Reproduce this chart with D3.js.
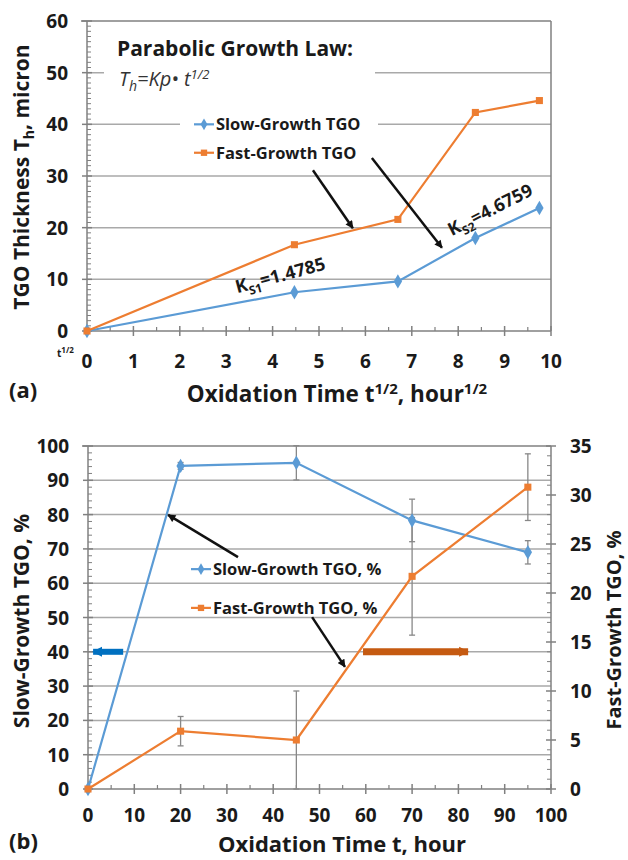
<!DOCTYPE html>
<html>
<head>
<meta charset="utf-8">
<script src="https://cdn.jsdelivr.net/npm/d3@7"></script>
<style>
body { margin: 0; background: #fff; }
text { font-family: "Open Sans", "Noto Sans", sans-serif; fill: #1a1a1a; }
</style>
</head>
<body>
<div id="chart"></div>
<script>
// (a) TGO thickness vs square root of oxidation time
const thickTime = [0, 4.47, 6.7, 8.37, 9.75];
const thickSlow = [0, 7.5, 9.6, 18.0, 23.8];
const thickFast = [0, 16.7, 21.6, 42.3, 44.6];
const thickXTicks = [0, 1, 2, 3, 4, 5, 6, 7, 8, 9, 10];
const thickYTicks = [0, 10, 20, 30, 40, 50, 60];

// (b) fraction of slow / fast growth TGO vs oxidation time
const pctTime = [0, 20, 45, 70, 95];
const pctSlow = [0, 94.2, 95.1, 78.3, 69.0];
const pctSlowErr = [0, 1.0, 5.0, 6.2, 3.4];
const pctFast = [0, 5.9, 5.0, 21.7, 30.8];
const pctFastErr = [0, 1.5, 5.0, 6.0, 3.4];
const pctXTicks = [0, 10, 20, 30, 40, 50, 60, 70, 80, 90, 100];
const pctLeftTicks = [0, 10, 20, 30, 40, 50, 60, 70, 80, 90, 100];
const pctRightTicks = [0, 5, 10, 15, 20, 25, 30, 35];

const BLUE = "#5b9bd5", ORANGE = "#ed7d31";
const GRID = "#a9a9a9", AXIS = "#808080";

const svg = d3.select("#chart").append("svg")
    .attr("width", 628).attr("height", 860);

const defs = svg.append("defs");
function arrowHead(id, color, w, h){
    defs.append("marker")
        .attr("id", id)
        .attr("markerUnits", "userSpaceOnUse")
        .attr("viewBox", "0 0 10 10")
        .attr("refX", 9).attr("refY", 5)
        .attr("markerWidth", w).attr("markerHeight", h)
        .attr("orient", "auto")
        .append("path").attr("d", "M0,0 L10,5 L0,10 z").attr("fill", color);
}
arrowHead("ahBlack", "#111", 9, 8);
arrowHead("ahBlue", "#0070c0", 10, 14);
arrowHead("ahOrange", "#c55a11", 10, 14);

function gridLines(g, y, ticks, x0, x1){
    g.selectAll(null).data(ticks).enter().append("line")
        .attr("x1", x0).attr("x2", x1)
        .attr("y1", d => y(d)).attr("y2", d => y(d))
        .attr("stroke", GRID).attr("stroke-width", 1.5);
}

// ticks crossing the axis, minor ticks on inner side
function xAxis(g, x, y0, ticks, minor, labelOff){
    g.append("line").attr("x1", x.range()[0]).attr("x2", x.range()[1])
        .attr("y1", y0).attr("y2", y0).attr("stroke", AXIS).attr("stroke-width", 1.5);
    g.selectAll(null).data(ticks).enter().append("line")
        .attr("x1", d => x(d)).attr("x2", d => x(d))
        .attr("y1", y0 - 5).attr("y2", y0 + 5).attr("stroke", AXIS).attr("stroke-width", 1.5);
    g.selectAll(null).data(minor).enter().append("line")
        .attr("x1", d => x(d)).attr("x2", d => x(d))
        .attr("y1", y0 - 4).attr("y2", y0).attr("stroke", AXIS).attr("stroke-width", 1.2);
    g.selectAll(null).data(ticks).enter().append("text")
        .attr("x", d => x(d)).attr("y", y0 + labelOff)
        .attr("text-anchor", "middle")
        .style("font-size", "19px").style("font-weight", "bold")
        .text(d => d);
}

function yAxis(g, y, x0, ticks, minor, side){
    let s = side === "left" ? 1 : -1;
    g.append("line").attr("x1", x0).attr("x2", x0)
        .attr("y1", y.range()[0]).attr("y2", y.range()[1]).attr("stroke", AXIS).attr("stroke-width", 1.5);
    g.selectAll(null).data(ticks).enter().append("line")
        .attr("x1", x0 - 5).attr("x2", x0 + 5)
        .attr("y1", d => y(d)).attr("y2", d => y(d)).attr("stroke", AXIS).attr("stroke-width", 1.5);
    g.selectAll(null).data(minor).enter().append("line")
        .attr("x1", x0).attr("x2", x0 + s * 4)
        .attr("y1", d => y(d)).attr("y2", d => y(d)).attr("stroke", AXIS).attr("stroke-width", 1);
    g.selectAll(null).data(ticks).enter().append("text")
        .attr("x", x0 - s * 19).attr("y", d => y(d) + 7)
        .attr("text-anchor", side === "left" ? "end" : "start")
        .style("font-size", "19px").style("font-weight", "bold")
        .text(d => d);
}

function series(g, xs, ys, x, y, color, shape){
    let pts = xs.map((d, i) => [x(d), y(ys[i])]);
    g.append("path").attr("d", d3.line()(pts))
        .attr("fill", "none").attr("stroke", color).attr("stroke-width", 2.2);
    let sym = d3.symbol().type(shape === "sq" ? d3.symbolSquare : d3.symbolDiamond)
        .size(shape === "sq" ? 50 : 60);
    g.selectAll(null).data(pts).enter().append("path")
        .attr("d", sym).attr("transform", d => "translate(" + d[0] + "," + d[1] + ")")
        .attr("fill", color);
}

function legendItem(g, x, y, color, shape, label, size){
    g.append("line").attr("x1", x).attr("x2", x + 20).attr("y1", y).attr("y2", y)
        .attr("stroke", color).attr("stroke-width", 2.2);
    let sym = d3.symbol().type(shape === "sq" ? d3.symbolSquare : d3.symbolDiamond).size(40);
    g.append("path").attr("d", sym).attr("transform", "translate(" + (x + 10) + "," + y + ")").attr("fill", color);
    g.append("text").attr("x", x + 22).attr("y", y + 6)
        .style("font-size", size).style("font-weight", "bold").text(label);
}

function arrow(g, p0, p1, marker, color, w){
    g.append("line").attr("x1", p0[0]).attr("y1", p0[1]).attr("x2", p1[0]).attr("y2", p1[1])
        .attr("stroke", color).attr("stroke-width", w).attr("marker-end", "url(#" + marker + ")");
}

// ---------------- panel (a) ----------------
const xa = d3.scaleLinear().domain([0, 10]).range([87, 551]);
const ya = d3.scaleLinear().domain([0, 60]).range([331, 21]);
const ga = svg.append("g");

gridLines(ga, ya, [10, 20, 30, 40, 50], xa(0), xa(10));
ga.append("line").attr("x1", xa(0) - 6).attr("x2", xa(10)).attr("y1", ya(60)).attr("y2", ya(60))
    .attr("stroke", AXIS).attr("stroke-width", 1.5);
ga.append("line").attr("x1", xa(10)).attr("x2", xa(10)).attr("y1", ya(60)).attr("y2", ya(0))
    .attr("stroke", AXIS).attr("stroke-width", 1.5);

// white text boxes hide parts of the gridlines
ga.append("rect").attr("x", 104).attr("y", 34).attr("width", 271).attr("height", 58).attr("fill", "#fff");
ga.append("rect").attr("x", 180).attr("y", 110).attr("width", 198).attr("height", 54).attr("fill", "#fff");

xAxis(ga, xa, ya(0), thickXTicks, d3.range(0.5, 10, 1), 37);
yAxis(ga, ya, xa(0), thickYTicks, d3.range(1, 60, 1).filter(d => d % 10 !== 0), "left");

series(ga, thickTime, thickSlow, xa, ya, BLUE, "di");
series(ga, thickTime, thickFast, xa, ya, ORANGE, "sq");

ga.append("text").attr("x", 117).attr("y", 56)
    .style("font-size", "21px").style("font-weight", "bold").text("Parabolic Growth Law:");
let f = ga.append("text").attr("x", 119).attr("y", 86)
    .style("font-size", "20px").style("font-style", "italic").style("fill", "#333");
f.append("tspan").text("T");
f.append("tspan").attr("dy", 5).style("font-size", "14px").text("h");
f.append("tspan").attr("dy", -5).text("=Kp\u2022 t");
f.append("tspan").attr("dy", -7).style("font-size", "13px").text("1/2");

legendItem(ga, 194, ya(40), BLUE, "di", "Slow-Growth TGO", "16.5px");
legendItem(ga, 194, ya(34.5), ORANGE, "sq", "Fast-Growth TGO", "16.5px");

arrow(ga, [xa(4.87), ya(31.1)], [xa(5.73), ya(19.9)], "ahBlack", "#111", 2.5);
arrow(ga, [xa(6.14), ya(33.5)], [xa(7.65), ya(16.1)], "ahBlack", "#111", 2.5);

function kLabel(g, cx, cy, ang, sub, val){
    let t = g.append("text").attr("transform", "translate(" + cx + "," + cy + ") rotate(" + ang + ")")
        .attr("text-anchor", "middle").style("font-size", "18px").style("font-weight", "bold");
    t.append("tspan").text("K");
    t.append("tspan").attr("dy", 5).style("font-size", "12px").text(sub);
    t.append("tspan").attr("dy", -5).text("=" + val);
}
kLabel(ga, xa(4.2), ya(9.6), -15, "S1", "1.4785");
kLabel(ga, xa(8.75), ya(22.4), -27, "S2", "4.6759");

let t12 = ga.append("text").attr("x", 57).attr("y", 357).style("font-size", "10px").style("font-weight", "bold");
t12.append("tspan").text("t");
t12.append("tspan").attr("dy", -4).style("font-size", "8px").text("1/2");

ga.append("text").attr("x", 9).attr("y", 398).style("font-size", "22px").style("font-weight", "bold").text("(a)");
let xt = ga.append("text").attr("x", 337).attr("y", 402).attr("text-anchor", "middle")
    .style("font-size", "22.5px").style("font-weight", "bold");
xt.append("tspan").text("Oxidation Time t");
xt.append("tspan").attr("dy", -8).style("font-size", "15px").text("1/2");
xt.append("tspan").attr("dy", 8).text(", hour");
xt.append("tspan").attr("dy", -8).style("font-size", "15px").text("1/2");

let yt = ga.append("text").attr("transform", "translate(29," + 177 + ") rotate(-90)")
    .attr("text-anchor", "middle").style("font-size", "21px").style("font-weight", "bold");
yt.append("tspan").text("TGO Thickness T");
yt.append("tspan").attr("dy", 5).style("font-size", "14px").text("h");
yt.append("tspan").attr("dy", -5).text(", micron");

// ---------------- panel (b) ----------------
const xb = d3.scaleLinear().domain([0, 100]).range([88, 551]);
const yl = d3.scaleLinear().domain([0, 100]).range([789, 446]);
const yr = d3.scaleLinear().domain([0, 35]).range([789, 446]);
const gb = svg.append("g");

gridLines(gb, yl, d3.range(10, 100, 10), xb(0), xb(100));
gb.append("line").attr("x1", xb(0) - 6).attr("x2", xb(100)).attr("y1", yl(100)).attr("y2", yl(100))
    .attr("stroke", AXIS).attr("stroke-width", 1.5);

xAxis(gb, xb, yl(0), pctXTicks, d3.range(5, 100, 10), 33);
yAxis(gb, yl, xb(0), pctLeftTicks, d3.range(2, 100, 2).filter(d => d % 10 !== 0), "left");
yAxis(gb, yr, xb(100), pctRightTicks, d3.range(1, 35, 1).filter(d => d % 5 !== 0), "right");

// error bars
function errBars(g, xs, ys, es, y){
    xs.forEach((d, i) => {
        if (es[i] <= 0) return;
        let cx = xb(d), top = y(ys[i] + es[i]), bot = y(Math.max(0, ys[i] - es[i]));
        g.append("line").attr("x1", cx).attr("x2", cx).attr("y1", top).attr("y2", bot)
            .attr("stroke", "#888").attr("stroke-width", 1.3);
        [top, bot].forEach(v => g.append("line").attr("x1", cx - 3).attr("x2", cx + 3)
            .attr("y1", v).attr("y2", v).attr("stroke", "#888").attr("stroke-width", 1.3));
    });
}
errBars(gb, pctTime, pctSlow, pctSlowErr, yl);
errBars(gb, pctTime, pctFast, pctFastErr, yr);

series(gb, pctTime, pctSlow, xb, yl, BLUE, "di");
series(gb, pctTime, pctFast, xb, yr, ORANGE, "sq");

legendItem(gb, 191, yl(64.1), BLUE, "di", "Slow-Growth TGO, %", "16.5px");
legendItem(gb, 191, yl(52.8), ORANGE, "sq", "Fast-Growth TGO, %", "16.5px");

arrow(gb, [xb(32.4), yl(67.6)], [xb(17.3), yl(79.9)], "ahBlack", "#111", 2.5);
arrow(gb, [xb(48.4), yl(50.1)], [xb(55.5), yl(35.6)], "ahBlack", "#111", 2.5);
arrow(gb, [xb(7.6), yl(40)], [xb(1.1), yl(40)], "ahBlue", "#0070c0", 6);
arrow(gb, [xb(59.4), yr(14)], [xb(82.1), yr(14)], "ahOrange", "#c55a11", 7);

gb.append("text").attr("x", 9).attr("y", 849).style("font-size", "22px").style("font-weight", "bold").text("(b)");
gb.append("text").attr("x", 342).attr("y", 852).attr("text-anchor", "middle")
    .style("font-size", "22px").style("font-weight", "bold").text("Oxidation Time t, hour");
gb.append("text").attr("transform", "translate(29," + 621 + ") rotate(-90)")
    .attr("text-anchor", "middle").style("font-size", "21px").style("font-weight", "bold")
    .text("Slow-Growth TGO, %");
gb.append("text").attr("transform", "translate(621," + 630 + ") rotate(-90)")
    .attr("text-anchor", "middle").style("font-size", "20px").style("font-weight", "bold")
    .text("Fast-Growth TGO, %");
</script>
</body>
</html>
